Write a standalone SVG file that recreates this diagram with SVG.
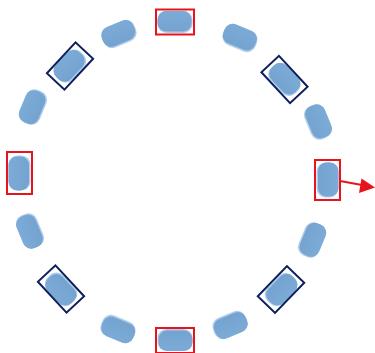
<svg xmlns="http://www.w3.org/2000/svg" width="375" height="353" viewBox="0 0 375 353">
<style>
.rbox{fill:none;stroke:#e8141c;stroke-width:2}
.nbox{fill:none;stroke:#0d1f5c;stroke-width:2}
.conn{stroke:#e8141c;stroke-width:2;fill:none}
</style>
<defs>
<linearGradient id="pg" x1="0" y1="0" x2="0" y2="1">
<stop offset="0" stop-color="#7dabd7"/>
<stop offset="1" stop-color="#74a3d0"/>
</linearGradient>
<g id="pill">
<rect x="-17.5" y="-11" width="35" height="22" rx="9" ry="9" fill="#aecdeb"/>
<rect x="-17.5" y="-11" width="34" height="20.5" rx="8.5" ry="8.5" fill="url(#pg)"/>
</g>
</defs>
<g id="n0"><use href="#pill" transform="translate(175,22)"/><rect class="rbox" x="156" y="9.5" width="38" height="25"/></g>
<g id="n1"><use href="#pill" transform="translate(240,38) rotate(22.5)"/></g>
<g id="n2"><use href="#pill" transform="translate(284.5,79.5) rotate(47)"/><rect class="nbox" x="-21" y="-12" width="42" height="24" transform="translate(284.5,79.5) rotate(47)"/></g>
<g id="n3"><use href="#pill" transform="translate(318,122) rotate(67.5)"/></g>
<g id="n4"><use href="#pill" transform="translate(327.5,180) rotate(90)"/><rect class="rbox" x="315" y="160" width="25" height="40"/></g>
<g id="n5"><use href="#pill" transform="translate(312,240) rotate(112.5)"/></g>
<g id="n6"><use href="#pill" transform="translate(281,289.5) rotate(134)"/><rect class="nbox" x="-21" y="-12" width="42" height="24" transform="translate(281,289.5) rotate(134)"/></g>
<g id="n7"><use href="#pill" transform="translate(230,325) rotate(157.5)"/></g>
<g id="n8"><use href="#pill" transform="translate(175,340) rotate(180)"/><rect class="rbox" x="156" y="328" width="38" height="25"/></g>
<g id="n9"><use href="#pill" transform="translate(118,329) rotate(202.5)"/></g>
<g id="n10"><use href="#pill" transform="translate(61,289) rotate(227)"/><rect class="nbox" x="-21" y="-12" width="42" height="24" transform="translate(61,289) rotate(227)"/></g>
<g id="n11"><use href="#pill" transform="translate(30,231) rotate(247.5)"/></g>
<g id="n12"><use href="#pill" transform="translate(19.5,173) rotate(270)"/><rect class="rbox" x="7" y="152" width="25" height="42"/></g>
<g id="n13"><use href="#pill" transform="translate(33,107) rotate(292.5)"/></g>
<g id="n14"><use href="#pill" transform="translate(70,66) rotate(313)"/><rect class="nbox" x="-21" y="-12" width="42" height="24" transform="translate(70,66) rotate(313)"/></g>
<g id="n15"><use href="#pill" transform="translate(119,34) rotate(337.5)"/></g>
<g id="connectors">
<line class="conn" x1="340" y1="181" x2="362" y2="185"/>
<polygon points="375,187.5 359,193 361.5,178.5" fill="#e8141c"/>
</g>
</svg>
